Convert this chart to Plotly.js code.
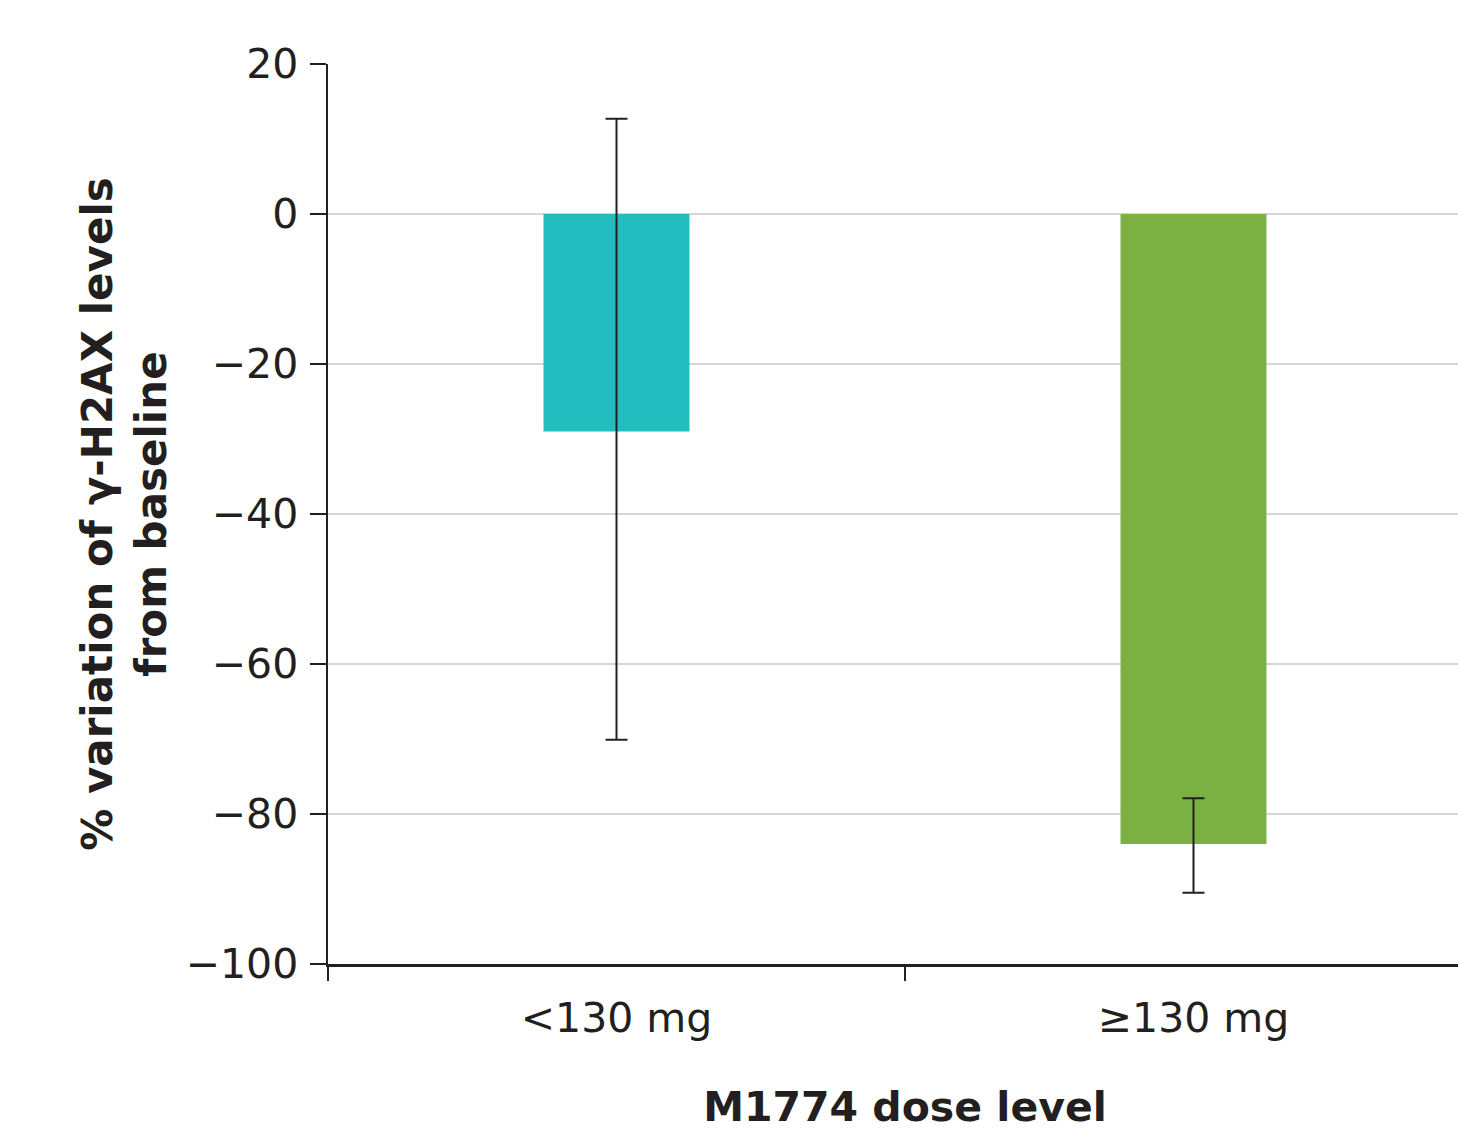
<!DOCTYPE html>
<html>
<head>
<meta charset="utf-8">
<script src="https://cdn.plot.ly/plotly-3.0.1.min.js"></script>
<style>
html, body { margin: 0; padding: 0; overflow: hidden; background: #ffffff; }
#chart { width: 1490px; height: 1136px; }
</style>
</head>
<body>
<div id="chart"></div>
<script>
const categories = ["<130 mg", "\u2265130 mg"];
const values = [-29.0, -84.0];
const errorPlus = [41.7, 6.1];
const errorMinus = [41.1, 6.5];
const barColors = ["#22BDBE", "#7AB142"];
const yTickValues = [20, 0, -20, -40, -60, -80, -100];

const axisColor = "#231F20";
const fontFamily = "DejaVu Sans, Verdana, sans-serif";

const trace = {
  type: "bar",
  x: categories,
  y: values,
  width: 0.253,
  marker: { color: barColors, line: { width: 0 } },
  error_y: {
    type: "data",
    symmetric: false,
    array: errorPlus,
    arrayminus: errorMinus,
    color: axisColor,
    thickness: 2,
    width: 11
  },
  hoverinfo: "x+y"
};

const layout = {
  width: 1490,
  height: 1136,
  margin: { l: 328, r: 8, t: 64, b: 172 },
  paper_bgcolor: "#ffffff",
  plot_bgcolor: "#ffffff",
  showlegend: false,
  font: { family: fontFamily, color: axisColor, size: 41 },
  xaxis: {
    type: "category",
    range: [-0.5, 1.5],
    showgrid: false,
    zeroline: false,
    showline: true,
    linecolor: axisColor,
    linewidth: 2.5,
    ticks: "outside",
    tickson: "boundaries",
    ticklen: 14,
    tickwidth: 2,
    tickcolor: axisColor,
    ticklabelstandoff: 16,
    tickfont: { family: fontFamily, size: 41, color: axisColor },
    title: {
      text: "<b>M1774 dose level</b>",
      font: { family: fontFamily, size: 41, color: axisColor },
      standoff: 52
    }
  },
  yaxis: {
    range: [-100, 20],
    tickvals: yTickValues,
    showgrid: true,
    gridcolor: "#d6d6d6",
    gridwidth: 2,
    zeroline: false,
    showline: true,
    linecolor: axisColor,
    linewidth: 2.5,
    ticks: "outside",
    ticklen: 16,
    tickwidth: 2,
    tickcolor: axisColor,
    ticklabelstandoff: 3,
    tickfont: { family: fontFamily, size: 41, color: axisColor },
    title: {
      text: "<b>% variation of \u03b3-H2AX levels<br>from baseline</b>",
      font: { family: fontFamily, size: 42, color: axisColor },
      standoff: 6
    }
  },
  bargap: 0.75
};

Plotly.newPlot("chart", [trace], layout, { displayModeBar: false, staticPlot: true });
</script>
</body>
</html>
